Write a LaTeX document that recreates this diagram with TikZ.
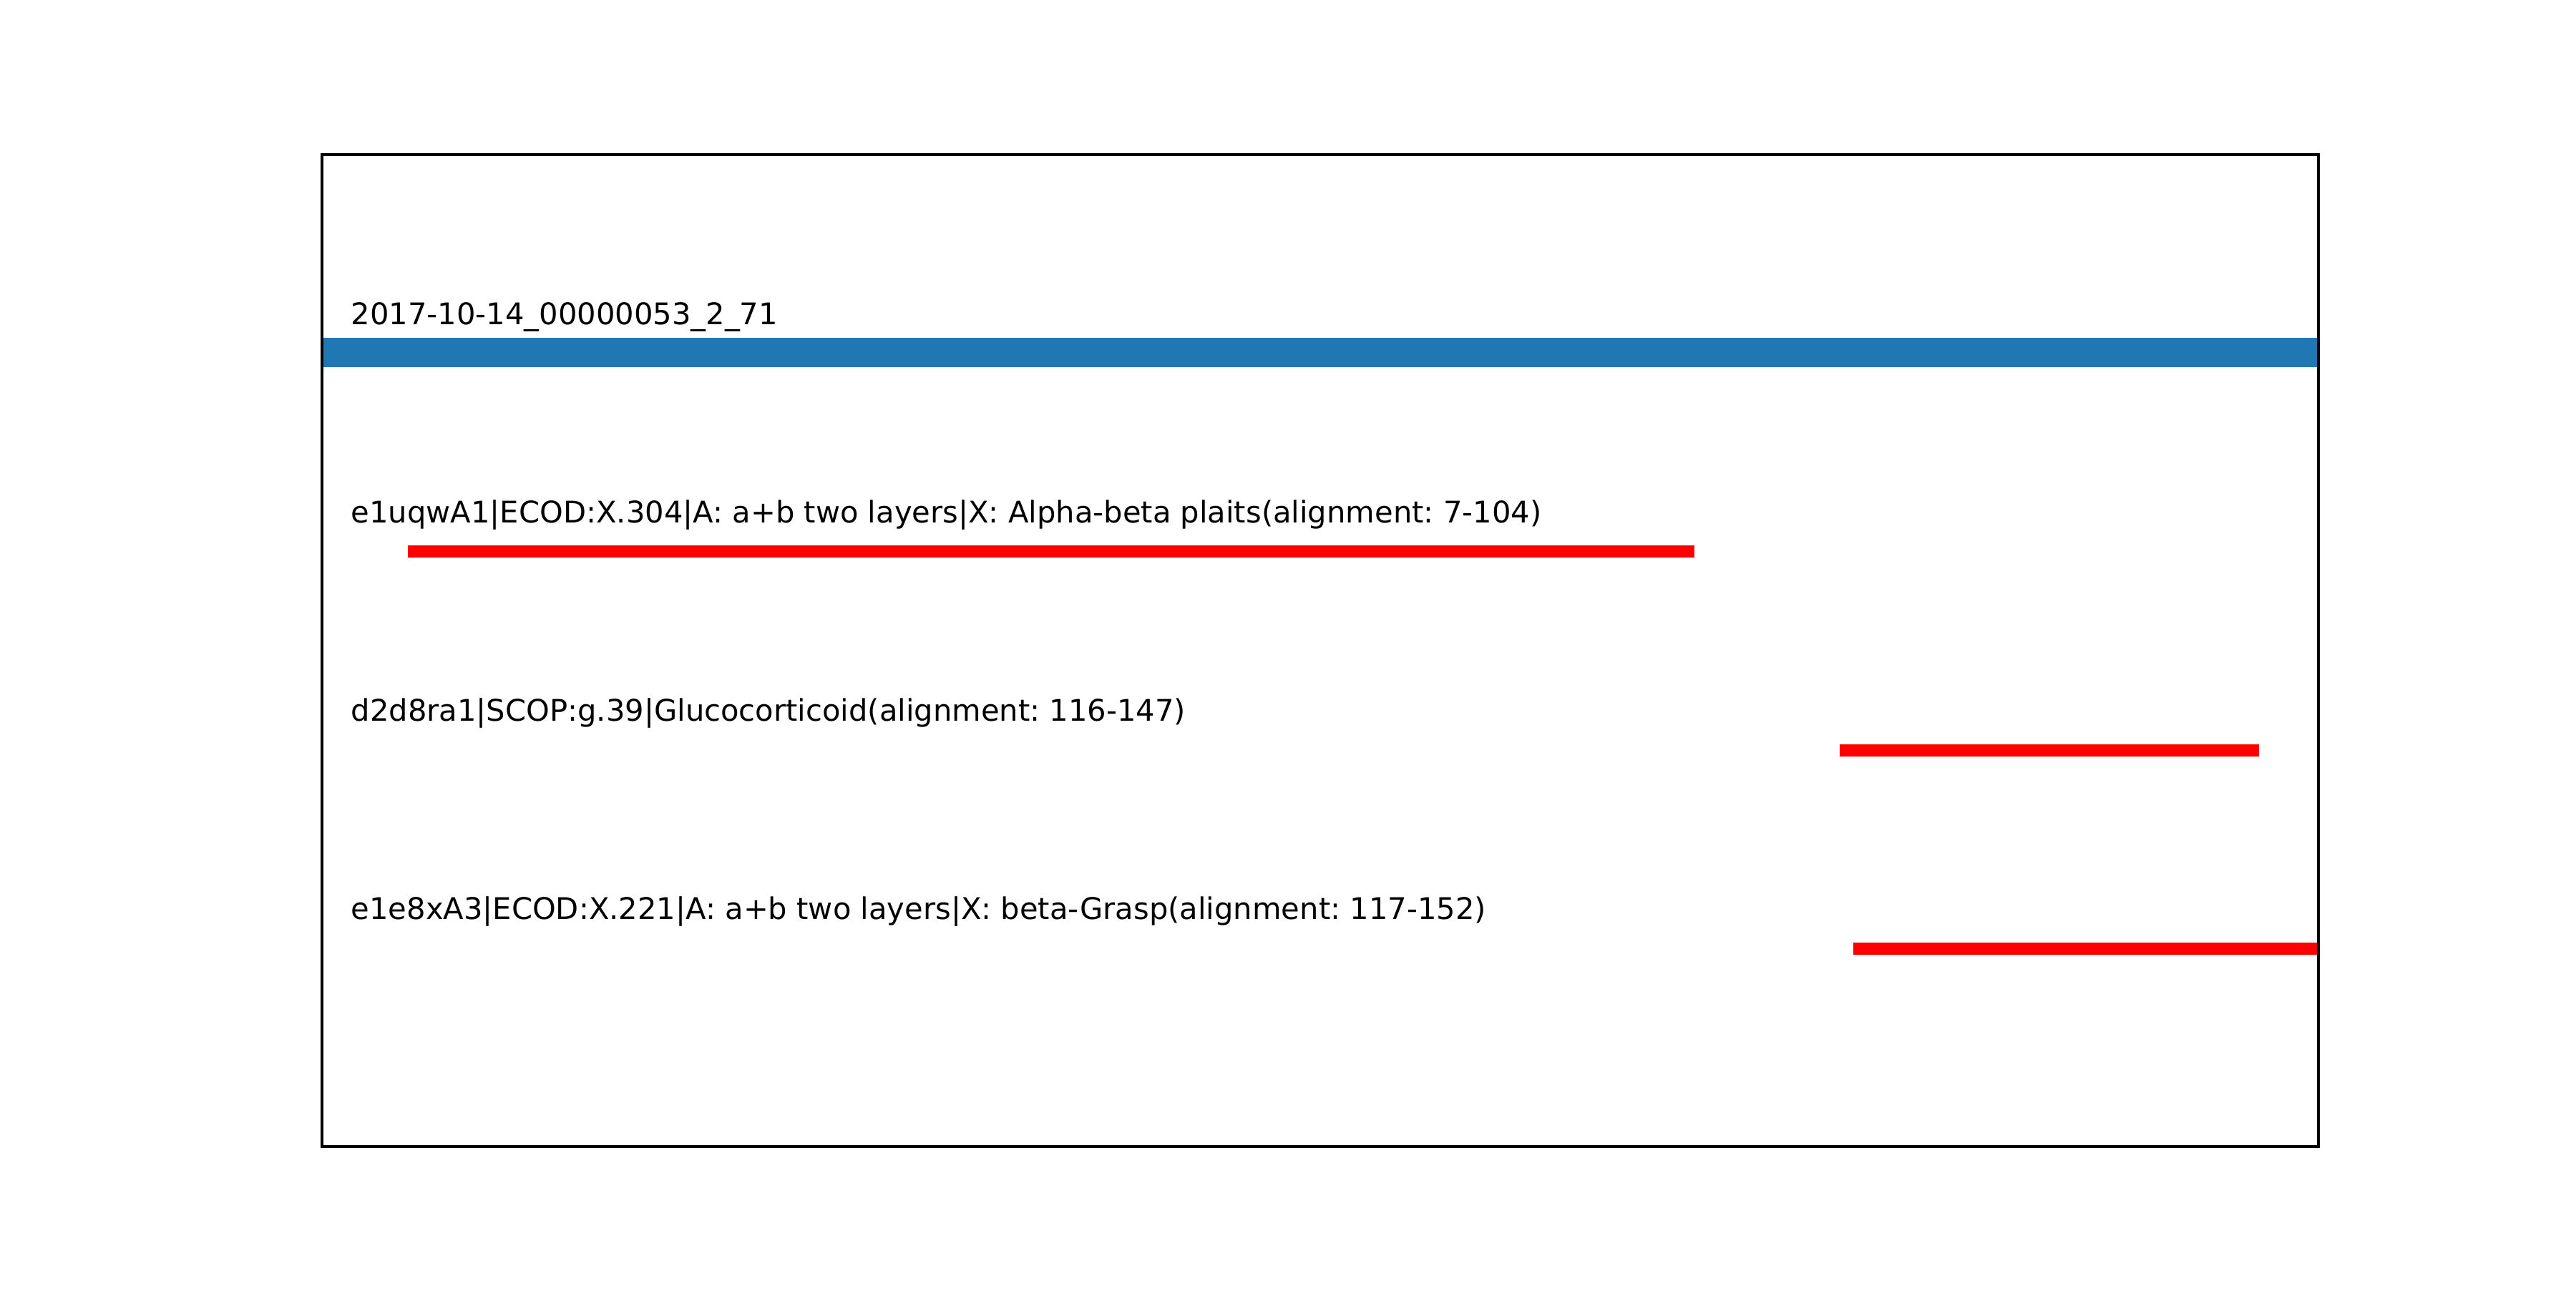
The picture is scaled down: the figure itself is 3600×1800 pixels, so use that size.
\documentclass[tikz,border=0pt]{standalone}
\usepackage{fontspec}
\setmainfont{DejaVu Sans}
\frenchspacing
\definecolor{mplblue}{HTML}{1F77B4}
\begin{document}
\begin{tikzpicture}[x=0.24pt,y=-0.24pt,
  lbl/.style={anchor=base west,inner sep=0pt,font=\fontsize{10pt}{12pt}\selectfont},
  querybar/.style={draw=mplblue,line width=9.84pt,line cap=butt},
  hitbar/.style={draw=red,line width=4.08pt,line cap=butt}]
\useasboundingbox (0,0) rectangle (3600,1800);
% labels
\node[lbl] (t0) at (490,453) {2017-10-14\_00000053\_2\_71};
\node[lbl] (t1) at (490,730) {e1uqwA1|ECOD:X.304|A: a+b two layers|X: Alpha-beta plaits(alignment: 7-104)};
\node[lbl] (t2) at (490,1007) {d2d8ra1|SCOP:g.39|Glucocorticoid(alignment: 116-147)};
\node[lbl] (t3) at (490,1284) {e1e8xA3|ECOD:X.221|A: a+b two layers|X: beta-Grasp(alignment: 117-152)};
% bar end points
\coordinate (q0) at (450,492.5);
\coordinate (q1) at (3240,492.5);
\coordinate (a0) at (570,770.5);
\coordinate (a1) at (2368,770.5);
\coordinate (b0) at (2571,1048.5);
\coordinate (b1) at (3157,1048.5);
\coordinate (c0) at (2590,1325.5);
\coordinate (c1) at (3240,1325.5);
\draw[querybar] (q0) -- (q1);
\draw[hitbar] (a0) -- (a1);
\draw[hitbar] (b0) -- (b1);
\draw[hitbar] (c0) -- (c1);
% axes frame
\coordinate (f0) at (450,216);
\coordinate (f1) at (3240,1602);
\draw[line width=0.8pt] (f0) rectangle (f1);
\end{tikzpicture}
\end{document}
